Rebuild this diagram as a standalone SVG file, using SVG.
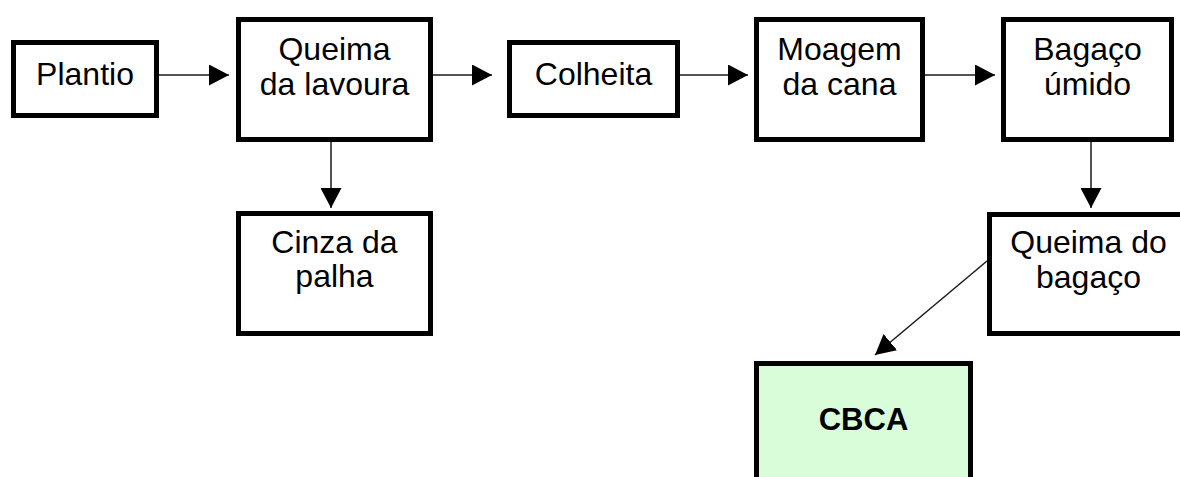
<svg xmlns="http://www.w3.org/2000/svg" width="1180" height="477" viewBox="0 0 1180 477">
  <style>
    .box { fill: #ffffff; stroke: #000000; stroke-width: 5; }
    .green { fill: #d9fcd9; }
    .lbl { font-family: "Liberation Sans", Arial, sans-serif; font-size: 32px; fill: #000000; text-anchor: middle; }
    .bold { font-weight: bold; font-size: 31px; }
    .conn { stroke: #1a1a1a; stroke-width: 1.5; fill: none; marker-end: url(#arrow); }
  </style>
  <defs>
    <marker id="arrow" markerUnits="userSpaceOnUse" markerWidth="21" markerHeight="21" refX="20" refY="10.5" orient="auto" viewBox="0 0 21 21">
      <path d="M0,0 L20,10.5 L0,21 Z" fill="#000000"/>
    </marker>
  </defs>
  <rect width="1180" height="477" fill="#ffffff"/>

  <g id="connectors">
    <line class="conn" x1="159" y1="75" x2="229" y2="75"/>
    <line class="conn" x1="433" y1="75" x2="492" y2="75"/>
    <line class="conn" x1="680" y1="75" x2="748" y2="75"/>
    <line class="conn" x1="925" y1="75" x2="995" y2="75"/>
    <line class="conn" x1="331" y1="140" x2="331" y2="208"/>
    <line class="conn" x1="1091" y1="140" x2="1091" y2="208"/>
    <line class="conn" x1="987" y1="261" x2="875" y2="355"/>
  </g>

  <g id="plantio">
    <rect class="box" x="13.5" y="42.5" width="143" height="73"/>
    <text class="lbl" x="85" y="85">Plantio</text>
  </g>
  <g id="queima-lavoura">
    <rect class="box" x="238.5" y="19.5" width="192" height="120"/>
    <text class="lbl" x="334.5" y="60">Queima</text>
    <text class="lbl" x="334.5" y="95">da lavoura</text>
  </g>
  <g id="colheita">
    <rect class="box" x="509.5" y="42.5" width="168" height="73"/>
    <text class="lbl" x="593.5" y="85">Colheita</text>
  </g>
  <g id="moagem">
    <rect class="box" x="756.5" y="19.5" width="166" height="120"/>
    <text class="lbl" x="839.5" y="60">Moagem</text>
    <text class="lbl" x="839.5" y="95">da cana</text>
  </g>
  <g id="bagaco">
    <rect class="box" x="1003.5" y="19.5" width="168" height="120"/>
    <text class="lbl" x="1087.5" y="60">Bagaço</text>
    <text class="lbl" x="1087.5" y="95">úmido</text>
  </g>
  <g id="cinza">
    <rect class="box" x="238.5" y="213.5" width="192" height="120"/>
    <text class="lbl" x="334.5" y="253">Cinza da</text>
    <text class="lbl" x="334.5" y="287">palha</text>
  </g>
  <g id="queima-bagaco">
    <rect class="box" x="989.5" y="214.5" width="210" height="119"/>
    <text class="lbl" x="1088.5" y="253">Queima do</text>
    <text class="lbl" x="1088.5" y="288">bagaço</text>
  </g>
  <g id="cbca">
    <rect class="box green" x="756.5" y="363.5" width="214" height="130"/>
    <text class="lbl bold" x="863.5" y="430">CBCA</text>
  </g>
</svg>
